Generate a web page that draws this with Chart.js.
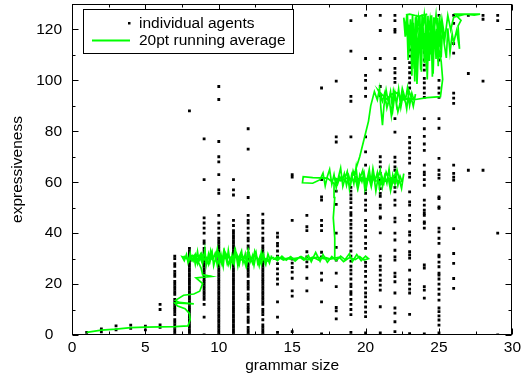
<!DOCTYPE html>
<html><head><meta charset="utf-8">
<script src="https://cdn.jsdelivr.net/npm/chart.js@4.4.1/dist/chart.umd.min.js"></script>
<style>html,body{margin:0;padding:0;background:#fff}canvas{display:block}</style>
</head><body>
<canvas id="c" width="524" height="377"></canvas>
<script>
const FONT = '"Liberation Sans", Arial, Helvetica, sans-serif';
const xTickValues = [0, 5, 10, 15, 20, 25, 30];
const yTickValues = [0, 20, 40, 60, 80, 100, 120];
const legendLabels = ['individual agents', '20pt running average'];
const xTitle = 'grammar size';
const yTitle = 'expressiveness';

// individual agents: grammar size (x) and the expressiveness values seen in that column
const agentGrammarSizes = [1,2,3,4,5,6,7,8,9,10,11,12,13,14,15,16,17,18,19,20,21,22,23,24,25,26,27,28,29];
const agentExpressiveness = [
  [1],
  [1.2, 2.4],
  [2, 3.6],
  [2.6, 3.9],
  [2, 3.5],
  [3, 4, 10, 12],
  [0,1,2,3,4,5,6,8,9,10,11,12,13,14,16,17,18,19,20,21,23,24,25,27,28,30,31],
  [0,1,2,3,4,5,6,7,8,9,10,11,12,13,14,15,16,17,18,19,20,21,22,23,24,25,26,27,28,29,30,31,32,33,34,88],
  [0,7,12,14,15,16,17,18,19,20,21,22,23,24,25,26,27,28,29,30,31,32,33,34,36,37,40,42,44,46,61,77],
  [0,1,2,3,4,5,6,7,8,9,10,11,12,13,14,15,16,17,18,19,20,21,22,23,24,25,26,27,28,29,30,31,32,33,34,35,36,37,38,40,42,44,47,55.6,57,63,68,70,76,92.5,97.6],
  [0,1,2,3,4,5,6,7,8,9,10,11,12,13,14,15,16,17,18,19,20,21,22,23,24,25,26,27,28,29,30,31,32,33,34,35,36,37,38,39,40,41,43,45,55,57,61],
  [0,1,2,3,5,6,7,9,10,11,12,14,15,16,18,19,20,21,23,24,25,26,27,28,30,31,32,34,35,37,38,40,42,44,45,47,54,73,81],
  [0,1,2,3,4,6,8,9,10,12,13,14,15,16,17,18,19,20,21,22,23,24,25,26,27,28,29,30,31,32,33,34,35,37,38,40,42,44,45,47.5],
  [1,7,13,20,22,24,26,28,30,31,33,35,36,38.5,40],
  [1.3,15.3,17.3,22.3,24.7,26.5,28.2,29.8,45,62,63],
  [17.3,22.3,26.8,28.7,30.7,32.7,41,42.5,47],
  [0.4,13,21.6,24.3,30.7,32.5,41,43,45,53,54.2,61,97],
  [6.3,9.5,10.8,19,24.3,29.4,34.4,40,51.3,56.5,59.5,75.8,77.8,99.7],
  [1,8,10,12,14,16,17,19,20,22,24,25.5,27,29,31,33,35,37,38.5,40,42,43.5,45,47,48,50,52,53.5,55,56.5,58,77.8,91.8,93.7,111.5,123.5],
  [0.8,7.2,9,11,13,15,16.5,18.4,20.8,23,25,27,28.5,34,36,38.5,41,43,45,49,51,53,55.6,57,58,66.7,71.9,77.8,93.7,96.9,100,102,108.6,125.5],
  [0.8,11.1,17.6,19.6,21.5,23.5,25.5,27,29.4,31,40.1,45.9,46.4,49.8,51,54.5,55.6,57.5,59.6,60.8,63.5,66,68,70,94,97.6,104,108.6,119.6,125.5],
  [1.3,5.2,8.6,10.6,16.5,20.9,22.9,24.3,29.4,30.7,33.3,37.3,40,44.4,45.9,51,53,56.2,58,60,62,64.7,66,68,69.8,79.7,85,99.2,100.8,103,104.7,108.6,119,120,123.5,125.5],
  [0.5,8.1,16.5,18,20,21.6,25.5,30.2,31.5,32.7,36.6,39.2,40.5,45,47,51,52.3,56.2,62,63.5,67.5,69.5,71.5,73.5,75.5,77.6,97,99,101,103,105,107,109.5,112,114.5,117,119],
  [0.4,14.5,17.6,19,26.3,27.5,42,43.9,44.4,47,47.8,49,51,53,58.8,61,63,64,66.7,72.5,75,78,81,85,93.3,95,97,99,100.8,104,106,108,111,113,116,118],
  [0.8,3.9,5.9,7.5,9.2,10.6,13.7,16,18,20,22,23.5,24.3,26.8,28.6,30.7,31.4,36,38,40.5,42,49.7,50.3,53.6,54.2,61.6,63,64.7,69.4,81.2,85,93.3,95,97,100,108,111,115.7,125.5],
  [18.3,22.2,28.1,32,41.8,60.8,62,63.5,66.7,91,93,95,110.7,114.5,122.4,125.5],
  [64.7,102.7,125.5],
  [64.7,99.7,124,125.5],
  [0,40,123.5,125.5]
];

// 20pt running average path, in time order: [grammar size, expressiveness]
const runningAverage = [
  // climb from the start
  [1.0,1.0],[2.0,1.9],[3.0,2.3],[4.0,2.9],[5.0,3.1],[6.0,3.2],[7.0,3.3],[7.9,3.6],[8.05,6.0],[8.0,8.5],
  [7.7,10.3],[7.2,11.4],[7.0,12.6],[8.3,12.2],[7.3,12.8],[7.05,13.6],[7.6,15.6],[8.3,16.1],[8.7,17.2],[8.9,20.2],
  [8.45,22.4],[9.5,23.0],[8.9,23.7],[8.8,26.2],[8.6,28.8],
  // plateau near 30
  [7.5,30.8],[7.65,29.2],[7.8,31.6],[7.9,28.6],[8.05,32.2],[8.15,29.4],[8.3,31.0],[8.4,27.8],[8.55,32.8],[8.65,29.0],
  [8.8,31.4],[8.9,28.2],[9.05,33.6],[9.15,27.6],[9.3,31.8],[9.4,28.8],[9.55,32.4],[9.65,27.2],[9.8,30.6],[9.9,33.8],
  [10.05,28.4],[10.15,31.6],[10.3,27.0],[10.4,32.6],[10.55,28.6],[10.65,33.2],[10.8,27.4],[10.9,31.2],[11.05,28.0],[11.15,32.8],
  [11.3,27.2],[11.4,30.8],[11.55,33.0],[11.65,28.4],[11.8,31.8],[11.9,27.6],[12.05,32.4],[12.15,28.8],[12.3,31.2],[12.4,27.4],
  [12.55,32.0],[12.65,28.2],[12.8,30.8],[12.9,27.8],[13.05,31.6],[13.15,28.6],[13.3,30.4],[13.45,28.2],[13.6,31.2],
  [13.5,29.4],[13.35,31.8],[13.2,27.6],[13.05,30.0],[12.9,32.6],[12.75,27.2],[12.6,30.6],[12.45,33.0],[12.3,28.2],[12.15,30.4],
  [12.0,33.4],[11.85,27.0],[11.7,29.8],[11.55,32.2],[11.4,27.8],[11.25,31.4],[11.1,33.6],[10.95,28.4],[10.8,30.2],[10.65,27.6],
  [10.5,31.8],[10.35,33.4],[10.2,28.0],[10.05,30.8],[9.9,27.4],[9.75,32.0],[9.6,29.6],[9.45,33.2],[9.3,27.8],[9.15,30.4],
  [9.0,32.0],[8.85,28.6],[8.7,30.8],[8.55,28.0],[8.4,31.6],[8.25,29.0],[8.1,30.6],[7.95,28.8],[7.8,30.2],[7.6,31.0],
  [7.9,29.6],[8.2,31.2],[8.5,29.2],[8.8,32.2],[9.1,29.0],[9.4,30.8],[9.7,28.6],[10.0,32.4],[10.3,29.6],[10.6,31.0],
  [10.9,29.0],[11.2,31.6],[11.5,29.4],[11.8,30.6],[12.1,28.8],[12.4,31.2],[12.7,29.6],[13.0,31.0],[13.3,29.0],[13.7,30.4],
  [14.0,29.2],[14.3,31.0],[14.6,29.4],[14.9,30.8],[15.2,29.0],[15.5,30.6],[15.8,29.4],[16.1,31.2],[16.3,28.8],[16.6,32.4],
  [16.9,29.0],[17.1,31.6],[17.4,28.6],[17.7,30.8],[18.0,29.2],[18.3,31.0],[18.6,29.6],[18.9,32.0],[19.1,28.8],[19.4,31.6],
  [19.7,29.2],[20.0,31.0],[20.2,30.0],[19.9,29.4],[19.6,30.8],[19.3,29.6],[18.9,30.4],[18.5,28.8],[18.2,30.6],
  [17.6,29.8],[17.2,30.6],[16.8,29.4],[16.4,30.6],[16.0,29.6],[15.6,30.8],[15.2,29.6],[14.8,30.4],[14.4,29.4],[14.0,30.8],
  [13.8,29.8],[14.3,30.2],[14.9,29.8],[15.5,30.4],[16.1,29.6],[16.7,30.6],[17.3,29.8],[17.85,30.2],
  // jump to the plateau near 60
  [17.9,38],[17.8,46],[17.9,54],[17.85,59.5],
  [17.4,61.6],[16.4,61.8],[15.75,62.2],[15.7,59.8],[16.4,59.6],[16.9,61.0],
  [17.1,63.6],[17.25,58.6],[17.4,62.4],[17.55,65.0],[17.7,59.2],[17.85,63.0],[18.0,57.8],[18.15,62.0],[18.3,65.6],[18.45,58.4],
  [18.6,61.6],[18.75,64.2],[18.9,57.4],[19.05,62.8],[19.2,59.4],[19.35,65.8],[19.5,58.0],[19.65,62.2],[19.8,64.6],[19.95,57.2],
  [20.1,61.0],[20.25,65.0],[20.4,58.6],[20.55,63.2],[20.7,56.6],[20.85,61.8],[21.0,64.8],[21.15,58.2],[21.3,62.6],[21.45,59.6],
  [21.6,65.2],[21.75,57.8],[21.9,61.4],[22.05,63.8],[22.2,58.8],[22.35,62.4],[22.5,60.0],[22.6,63.4],
  [22.45,57.6],[22.3,61.0],[22.15,64.6],[22.0,59.2],[21.85,62.8],[21.7,56.8],[21.55,61.6],[21.4,64.0],[21.25,59.8],[21.1,62.6],
  [20.95,57.6],[20.8,63.8],[20.65,60.4],[20.5,65.4],[20.35,59.0],[20.2,62.4],[20.05,58.0],[19.9,63.6],[19.75,60.2],[19.6,62.8],
  [19.45,57.6],[19.3,61.8],[19.15,64.4],[19.0,59.6],[18.85,62.6],[18.7,58.8],[18.55,63.4],[18.4,60.4],[18.25,62.0],[18.1,59.4],
  [17.95,61.6],[18.3,60.6],[18.8,61.8],[19.3,60.4],[19.8,62.0],[20.3,60.8],[20.8,62.2],[21.3,60.4],[21.8,61.8],[22.2,60.6],
  [21.6,61.2],[20.9,60.2],[20.2,61.6],[19.6,60.6],[19.2,62.8],
  // jump to the plateau near 93
  [19.3,64.5],[19.6,70],[19.9,77],[20.2,84],[20.35,90],[20.6,95.6],
  [20.8,92.4],[20.95,96.8],[21.05,88.6],[21.15,82.4],[21.25,90.0],[21.4,96.2],[21.55,91.4],[21.7,95.6],[21.85,88.2],[22.0,94.8],
  [22.1,90.6],[22.25,96.6],[22.4,89.4],[22.55,94.2],[22.7,91.6],[22.85,97.0],[23.0,90.2],[23.15,95.0],[23.3,92.0],[23.4,94.6],
  [23.25,89.8],[23.1,93.4],[22.95,96.0],[22.8,88.8],[22.65,93.8],[22.5,96.8],[22.35,91.0],[22.2,87.6],[22.05,92.8],[21.9,96.0],
  [21.75,86.4],[21.6,93.0],[21.45,89.2],[21.3,95.0],[21.15,91.8],[21.0,94.4],[20.85,96.2],[21.4,92.6],[22.0,95.6],[22.6,92.4],
  [23.1,93.0],[23.3,92.4],
  [24.2,93.2],[25.1,93.6],[25.25,100.5],[25.15,107.5],[25.0,112.0],
  // top plateau near 126
  [24.9,124.6],[24.8,108.4],[24.7,121.8],[24.6,102.6],[24.5,125.6],[24.4,110.2],[24.3,119.4],[24.2,100.4],[24.1,126.0],[24.0,106.8],
  [23.9,123.6],[23.8,103.4],[23.7,125.2],[23.6,111.6],[23.5,98.6],[23.4,124.8],[23.3,104.6],[23.2,126.0],[23.1,113.4],[23.0,121.8],
  [22.9,108.0],[22.8,125.4],[22.7,117.2],[22.6,124.6],
  [22.75,119.6],[22.85,126.0],[22.95,110.6],[23.05,124.0],[23.15,101.8],[23.25,122.6],[23.35,99.6],[23.45,125.8],[23.55,107.4],[23.65,120.8],
  [23.75,104.2],[23.85,126.0],[23.95,112.4],[24.05,118.6],[24.15,104.0],[24.25,125.4],[24.35,107.6],[24.45,122.4],[24.55,101.4],[24.65,124.8],
  [24.75,112.8],[24.85,120.2],[24.95,105.6],[25.05,125.6],[25.15,109.0],[25.25,122.2],[25.35,114.6],[25.5,108.8],[25.6,120.4],[25.75,111.0],
  [25.9,118.2],[26.0,114.8],[26.2,119.6],[26.4,112.4],[26.3,121.4],[26.5,123.6],[26.1,126.0],[26.6,126.0],[27.2,126.0],[27.8,126.0],
  [27.4,125.6],[26.8,126.0],
  [26.0,124.8],[25.8,119.8],[25.6,125.6],[25.4,116.4],[25.2,124.0],[25.0,113.0],[24.8,125.8],[24.6,115.6],[24.4,124.2],[24.2,113.8],
  [24.0,125.8],[23.8,115.2],[23.6,124.6],[23.4,112.2],[23.2,123.4],[23.0,116.8],[22.8,125.8],[23.0,126.0],[23.6,125.2],[24.2,126.0]
];

const agentPoints = [];
agentGrammarSizes.forEach((g, i) => agentExpressiveness[i].forEach(v => agentPoints.push({x: g, y: v})));
const avgPoints = runningAverage.map(p => ({x: p[0], y: p[1]}));

const GREEN = '#00ff00';

const framePlugin = {
  id: 'frame',
  afterDraw(chart) {
    const ctx = chart.ctx;
    const a = chart.chartArea;
    const xs = chart.scales.x, ys = chart.scales.y;
    ctx.save();
    ctx.strokeStyle = '#000';
    ctx.lineWidth = 1;
    const L = Math.round(a.left) + 0.5, R = Math.round(a.right) - 0.5;
    const T = Math.round(a.top) + 0.5, B = Math.round(a.bottom) - 0.5;
    ctx.beginPath();
    for (let v = 0; v <= 30; v += 2.5) {
      const px = Math.round(xs.getPixelForValue(v)) + 0.5;
      const len = (v % 5 === 0) ? 6 : 3;
      ctx.moveTo(px, B); ctx.lineTo(px, B - len);
      ctx.moveTo(px, T); ctx.lineTo(px, T + len);
    }
    for (let v = 0; v <= 130; v += 10) {
      const py = Math.round(ys.getPixelForValue(v)) + 0.5;
      const len = (v % 20 === 0) ? 6 : 3;
      ctx.moveTo(L, py); ctx.lineTo(L + len, py);
      ctx.moveTo(R, py); ctx.lineTo(R - len, py);
    }
    ctx.stroke();
    ctx.strokeRect(L, T, R - L, B - T);

    // legend box
    const bx = Math.round(a.left) + 11, by = Math.round(a.top) + 5, bw = 210, bh = 44;
    ctx.fillStyle = '#fff';
    ctx.fillRect(bx, by, bw, bh);
    ctx.strokeStyle = '#000';
    ctx.strokeRect(bx + 0.5, by + 0.5, bw, bh);
    ctx.font = '15.5px ' + FONT;
    ctx.textAlign = 'left';
    ctx.textBaseline = 'middle';
    ctx.fillStyle = '#000';
    const r1 = by + 14, r2 = by + 31;
    ctx.fillRect(bx + 45, r1 - 1, 2.5, 2.5);
    ctx.fillText(legendLabels[0], bx + 56, r1 + 1);
    ctx.strokeStyle = GREEN;
    ctx.lineWidth = 1.8;
    ctx.beginPath();
    ctx.moveTo(bx + 9, r2 + 0.5); ctx.lineTo(bx + 47, r2 + 0.5);
    ctx.stroke();
    ctx.fillText(legendLabels[1], bx + 56, r2 + 1);
    ctx.restore();
  }
};

new Chart(document.getElementById('c'), {
  type: 'scatter',
  data: {
    datasets: [
      {
        label: legendLabels[1],
        data: avgPoints,
        showLine: true,
        borderColor: GREEN,
        borderWidth: 1.7,
        pointRadius: 0,
        tension: 0,
        fill: false,
        order: 0
      },
      {
        label: legendLabels[0],
        data: agentPoints,
        showLine: false,
        pointStyle: 'rect',
        pointRadius: 2.0,
        pointBorderWidth: 0,
        pointBackgroundColor: '#000',
        backgroundColor: '#000',
        order: 1
      }
    ]
  },
  options: {
    responsive: false,
    maintainAspectRatio: false,
    devicePixelRatio: 1,
    animation: false,
    events: [],
    layout: { padding: { left: 0, right: 8, top: 4, bottom: 0 } },
    plugins: { legend: { display: false }, tooltip: { enabled: false } },
    scales: {
      x: {
        type: 'linear', min: 0, max: 30,
        afterBuildTicks: s => { s.ticks = xTickValues.map(v => ({value: v})); },
        afterFit: s => { s.height = 42; },
        ticks: { font: { family: FONT, size: 15.5 }, color: '#000', padding: 3, maxRotation: 0, autoSkip: false },
        grid: { display: false, drawTicks: false },
        border: { display: false },
        title: { display: true, text: xTitle, color: '#000', font: { family: FONT, size: 15.5 }, padding: { top: 0, bottom: 2 } }
      },
      y: {
        type: 'linear', min: 0, max: 130,
        afterBuildTicks: s => { s.ticks = yTickValues.map(v => ({value: v})); },
        afterFit: s => { s.width = 72; s.paddingTop = 0; s.paddingBottom = 0; },
        ticks: { font: { family: FONT, size: 15.5 }, color: '#000', padding: 10, autoSkip: false,
                 callback: v => (v === 0 ? '0  ' : String(v)) },
        grid: { display: false, drawTicks: false },
        border: { display: false },
        title: { display: true, text: yTitle, color: '#000', font: { family: FONT, size: 15.5 }, padding: { top: 8, bottom: 0 } }
      }
    }
  },
  plugins: [framePlugin]
});
</script>
</body></html>
